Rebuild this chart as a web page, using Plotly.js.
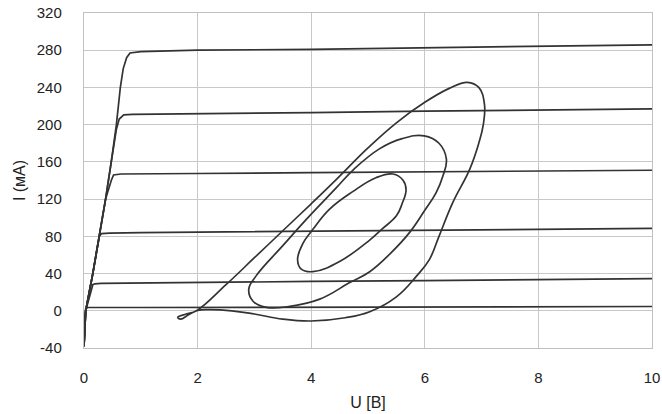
<!DOCTYPE html>
<html>
<head>
<meta charset="utf-8">
<script src="https://cdn.plot.ly/plotly-3.0.1.min.js"></script>
<style>html,body{margin:0;padding:0;background:#fff;}#chart{width:662px;height:414px;}</style>
</head>
<body>
<div id="chart"></div>
<script>
// Output characteristics (I-U curves), one per control level
const curve1X = [0, 0.01, 0.03, 0.06, 1, 2, 4, 6, 8, 10];
const curve1Y = [-38, -10, 2, 3.5, 3.5, 3.6, 3.8, 4, 4.3, 4.6];
const curve2X = [0, 0.03, 0.155, 0.19, 0.3, 1, 2, 4, 6, 8, 10];
const curve2Y = [-38, 0, 28, 29, 29.5, 30, 30.5, 31.5, 32.5, 33.5, 34.5];
const curve3X = [0, 0.03, 0.155, 0.27, 0.31, 0.45, 1, 2, 4, 6, 8, 10];
const curve3Y = [-38, 0, 40, 80, 83, 83.5, 84, 84.5, 85.5, 86.5, 87.5, 88.5];
const curve4X = [0, 0.03, 0.155, 0.27, 0.38, 0.48, 0.52, 0.65, 1, 2, 4, 6, 8, 10];
const curve4Y = [-38, 0, 40, 80, 120, 140, 146, 147, 147, 147.5, 148.5, 149.5, 150.5, 151];
const curve5X = [0, 0.03, 0.155, 0.27, 0.38, 0.48, 0.57, 0.62, 0.7, 0.85, 2, 4, 6, 8, 10];
const curve5Y = [-38, 0, 40, 80, 120, 160, 195, 206, 210.5, 211, 212, 213, 214.5, 216, 217];
const curve6X = [0, 0.03, 0.155, 0.27, 0.38, 0.48, 0.57, 0.64, 0.69, 0.75, 0.81, 1, 2, 4, 6, 8, 10];
const curve6Y = [-38, 0, 40, 80, 120, 160, 200, 240, 260, 272, 277, 278.5, 280, 281, 282.5, 284, 285.8];

// Load-line loops
const loopOuterX = [1.70, 1.65, 1.8, 1.98, 2.5, 3.0, 3.5, 4.0, 4.44, 5.0, 5.5, 6.0, 6.43, 6.75, 6.95, 7.05, 7.03, 6.95, 6.79, 6.49, 6.25, 6.08, 5.85, 5.5, 5.03, 4.6, 4.0, 3.5, 3.0, 2.6, 2.2, 2.0, 1.85, 1.70];
const loopOuterY = [-9, -7, -3.5, 0, 28, 57, 86, 115, 141, 175, 202, 224, 239, 245.5, 240, 222, 200, 180, 152, 116, 80, 55, 37, 15, -1, -7.5, -11, -9, -3.5, 0, 1.2, 0.3, -4, -9];
const loopMiddleX = [2.90, 3.03, 3.5, 3.91, 4.44, 4.75, 5.2, 5.6, 5.99, 6.25, 6.38, 6.32, 6.2, 6.0, 5.73, 5.4, 5.03, 4.67, 4.15, 3.6, 3.21, 2.98, 2.90];
const loopMiddleY = [23, 37.5, 70, 98, 132, 152, 174, 185, 188, 180, 163, 145, 127, 108, 84, 62, 42, 30, 12.5, 4.5, 3.6, 10, 23];
const loopInnerX = [3.76, 3.85, 4.03, 4.32, 4.73, 5.14, 5.44, 5.62, 5.67, 5.6, 5.5, 5.25, 5.03, 4.5, 4.03, 3.82, 3.76];
const loopInnerY = [55, 72, 87.5, 109, 128, 143, 147, 140, 130, 115, 102, 88, 76, 53, 42, 45, 55];

const xTicks = [0, 2, 4, 6, 8, 10];
const yTicks = [-40, 0, 40, 80, 120, 160, 200, 240, 280, 320];

const lineCol = '#333333';
const curves = [[curve1X, curve1Y], [curve2X, curve2Y], [curve3X, curve3Y], [curve4X, curve4Y], [curve5X, curve5Y], [curve6X, curve6Y]];
const traces = curves.map(c => ({
  x: c[0], y: c[1], mode: 'lines', type: 'scatter',
  line: {color: lineCol, width: 1.7}, hoverinfo: 'skip'
}));
[[loopOuterX, loopOuterY], [loopMiddleX, loopMiddleY], [loopInnerX, loopInnerY]].forEach(l => {
  traces.push({x: l[0], y: l[1], mode: 'lines', type: 'scatter',
    line: {color: lineCol, width: 1.7, shape: 'spline', smoothing: 1.2}, hoverinfo: 'skip'});
});

const font = {family: 'Liberation Sans, Arial, sans-serif', size: 15, color: '#222'};
const titleFont = {family: 'Liberation Sans, Arial, sans-serif', size: 16, color: '#222'};
const layout = {
  width: 662, height: 414,
  margin: {l: 84, r: 10, t: 13, b: 66},
  paper_bgcolor: '#fff', plot_bgcolor: '#fff',
  showlegend: false,
  font: font,
  xaxis: {
    range: [0, 10], tickvals: xTicks, ticktext: xTicks.map(String),
    showgrid: true, gridcolor: '#c8c8c8', gridwidth: 1.2,
    zeroline: false, showline: true, linecolor: '#c0c0c0', linewidth: 1.2, mirror: true,
    ticks: 'outside', ticklen: 16, tickcolor: 'rgba(0,0,0,0)',
    tickfont: font, automargin: false,
    title: {text: 'U [В]', font: titleFont, standoff: 11}
  },
  yaxis: {
    range: [-40, 320], tickvals: yTicks, ticktext: yTicks.map(String),
    showgrid: true, gridcolor: '#c8c8c8', gridwidth: 1.2,
    zeroline: false, showline: true, linecolor: '#c0c0c0', linewidth: 1.2, mirror: true,
    ticks: 'outside', ticklen: 18, tickcolor: 'rgba(0,0,0,0)',
    tickfont: font, automargin: false,
    title: {text: 'I (мА)', font: titleFont, standoff: 7}
  }
};
Plotly.newPlot('chart', traces, layout, {staticPlot: true, displayModeBar: false});
</script>
</body>
</html>
